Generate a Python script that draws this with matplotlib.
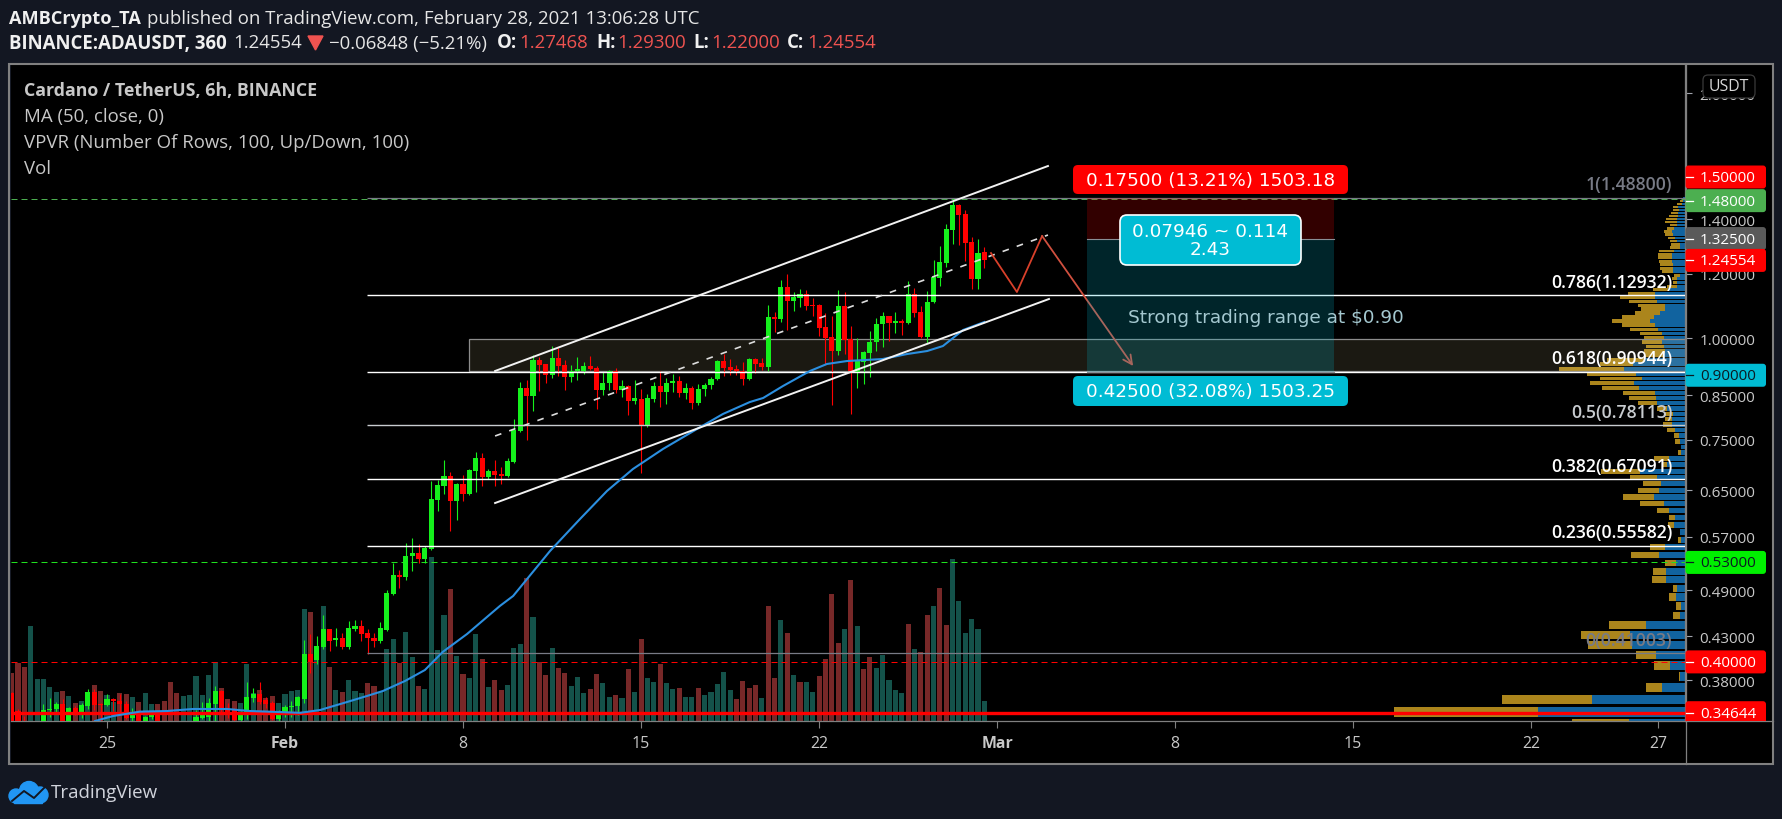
import matplotlib
matplotlib.use("Agg")
import matplotlib.pyplot as plt
from matplotlib.patches import FancyBboxPatch, Rectangle, Circle
from matplotlib.lines import Line2D
from matplotlib.ticker import NullLocator
from matplotlib.transforms import Bbox, IdentityTransform

# ---------------- data ----------------
# 6h candles, last one ends the series on Feb 28 12:00 (days counted from Jan 25)
last_day = 34.5
opens = [.366,.348,.338,.335,.332,.336,.349,.350,.355,.338,.351,.346,.353,.367,.355,.354,.360,.358,.355,.341,
 .344,.338,.342,.345,.337,.333,.332,.331,.333,.335,.341,.342,.355,.368,.350,.350,.339,.344,.361,.365,
 .359,.356,.340,.345,.352,.353,.360,.409,.402,.417,.439,.425,.428,.417,.4385,.4425,.434,.428,.424,.4375,
 .485,.5115,.5086,.539,.544,.535,.5505,.6324,.658,.6768,.6306,.6617,.6432,.6865,.7122,.675,.6865,.68,.677,.704,
 .7687,.868,.8487,.9397,.928,.9006,.945,.926,.8955,.910,.912,.9239,.9187,.8632,.880,.911,.8632,.873,.8368,.8415,
 .7818,.8415,.873,.8584,.8805,.8855,.8559,.8681,.832,.8656,.8755,.8905,.937,.92,.915,.912,.8905,.9423,.931,.9213,
 1.0612,1.0552,1.1552,1.1104,1.121,1.1326,1.097,1.0979,1.031,1.003,.9639,1.0947,.9972,.906,.9344,.9585,.9888,1.0404,1.0642,1.0433,
 1.0493,1.0433,1.1326,1.0763,1.0028,1.1072,1.185,1.2364,1.3573,1.4568,1.4202,1.3121,1.1817,1.27468]
highs = [.367,.350,.343,.336,.335,.355,.361,.3575,.360,.352,.353,.356,.370,.370,.356,.365,.361,.365,.358,.351,
 .345,.343,.348,.346,.337,.334,.333,.333,.335,.349,.357,.361,.374,.369,.356,.351,.348,.378,.371,.378,
 .362,.358,.349,.354,.358,.363,.425,.433,.430,.457,.439,.440,.434,.449,.450,.450,.4385,.4335,.448,.490,
 .529,.519,.56,.568,.558,.555,.667,.669,.708,.6845,.663,.6787,.69,.7243,.7218,.69,.708,.695,.712,.795,
 .883,.888,.953,.9477,.93,.9776,.9721,.9397,.9265,.9477,.9344,.9503,.9239,.9083,.9135,.9187,.888,.875,.888,.8656,
 .8535,.8829,.9109,.893,.9032,.898,.8805,.873,.878,.8805,.8955,.94,.9557,.9423,.9265,.9344,.945,.945,.945,1.0979,
 1.0763,1.1783,1.1984,1.139,1.1487,1.1455,1.1198,1.10,1.0733,1.0642,1.1455,1.139,1.0345,1.0,.9639,1.02,1.0582,1.0763,1.065,1.0763,
 1.0552,1.175,1.1519,1.0947,1.1423,1.2469,1.2973,1.3805,1.4858,1.46,1.4364,1.3307,1.3233,1.293]
lows = [.330,.330,.330,.328,.328,.330,.342,.346,.335,.335,.344,.341,.350,.349,.338,.353,.348,.344,.340,.335,
 .330,.337,.340,.330,.330,.328,.328,.328,.329,.330,.340,.337,.337,.347,.341,.336,.336,.340,.357,.355,
 .351,.339,.336,.342,.342,.344,.356,.3875,.398,.415,.4125,.418,.4145,.4145,.437,.424,.409,.417,.4215,.4365,
 .4835,.493,.504,.517,.529,.529,.549,.613,.643,.579,.5976,.6306,.642,.647,.658,.671,.658,.662,.675,.703,
 .766,.7494,.8134,.8608,.8805,.893,.898,.8632,.8829,.888,.9032,.9135,.8181,.8511,.8632,.8559,.8463,.8043,.8297,.6826,
 .7774,.8344,.8227,.8297,.8584,.8463,.8415,.8181,.8274,.8487,.8656,.888,.898,.9006,.9006,.8755,.889,.9059,.9135,.9109,
 1.017,1.0463,1.0229,1.0794,1.0917,1.0824,1.0642,1.0057,.9291,.8274,.953,.9557,.8066,.8681,.878,.8955,.9639,.9748,.9915,1.0142,
 1.0085,1.0404,1.0612,1.0,.9869,1.104,1.1585,1.2224,1.3046,1.3009,1.2433,1.1487,1.1487,1.22]
closes = [.336,.335,.335,.332,.334,.349,.350,.355,.338,.351,.346,.354,.367,.354,.354,.360,.358,.355,.341,.344,
 .337,.342,.344,.337,.333,.332,.331,.330,.332,.342,.344,.356,.368,.349,.345,.339,.344,.362,.365,.357,
 .355,.340,.345,.352,.353,.362,.409,.400,.418,.439,.424,.428,.417,.440,.4425,.433,.4275,.424,.440,.486,
 .5115,.509,.5397,.544,.535,.552,.6342,.6598,.6768,.6306,.6617,.6432,.6884,.7122,.6749,.6865,.679,.677,.706,.7708,
 .8681,.8487,.9397,.9265,.9006,.945,.9239,.8955,.9109,.916,.9239,.916,.8632,.8805,.9109,.8632,.873,.8368,.8439,.7818,
 .8439,.873,.8584,.8805,.8855,.8559,.8681,.832,.8656,.8755,.8905,.937,.9187,.9135,.9109,.8905,.9423,.9292,.9213,1.0612,
 1.0552,1.1552,1.1104,1.123,1.1326,1.0947,1.0947,1.0287,1.0,.9639,1.0947,.9943,.9109,.937,.9612,.9888,1.0404,1.0642,1.0433,1.0493,
 1.0433,1.1326,1.0733,1.0028,1.1072,1.1884,1.2399,1.3612,1.4568,1.4162,1.3083,1.1817,1.2718,1.24554]

volumes = [48,58,54,95,42,42,34,29,30,25,18,20,28,36,30,26,19,28,27,24,19,28,17,17,20,39,28,25,26,45,26,46,59,33,22,20,18,57,28,31,
 23,25,18,27,30,31,112,109,74,115,54,31,29,41,30,28,38,35,29,72,82,58,89,64,35,32,164,71,106,132,65,47,43,87,62,34,41,
 31,36,73,77,143,104,59,46,73,53,48,35,44,28,32,47,38,24,26,23,52,29,82,43,39,57,38,32,33,24,24,33,26,29,37,49,31,22,40,33,36,23,
 115,43,101,88,46,39,39,29,45,62,127,78,92,141,95,52,64,53,66,41,31,28,97,72,69,106,115,133,96,162,120,88,102,92,20]
volume_dirs = ("RRRGGGGGRGRGGRRGGRRGRGGRRRRGGGGGGRRRGGGRRRGGGGGRGGRGRGGGRRGGGRGGRGGGGRGRGGRGR"
               "RGGGRGRRGRRGGGRRGGRGRGRGGRGGRGGRGGGGGRRRRGRRGRGRGGRRRRGRGRRGGGGGRGRRGRRGGGGGGRRRGR")

ma_days = [-.47,.24,1.3,2.36,3.38,4.72,5.62,6.69,7.59,8.38,9.44,10.22,10.85,11.72,12.5,13.2,14.16,15.45,15.97,17.42,
 18.6,19.66,20.68,21.86,23.2,24.22,25.28,25.8,26.58,27.64,28.31,29.1,30.5,31.46,32.25,32.87,33.66,34.5]
ma_values = [.3384,.3432,.3475,.3481,.3501,.3501,.3481,.3472,.3463,.3491,.3571,.3632,.3684,.379,.3909,.4114,.4329,.4686,.482,.5474,
 .5993,.6487,.6903,.7305,.7731,.8066,.8344,.8439,.873,.9109,.9292,.937,.9423,.9557,.9639,.9776,1.0229,1.0463]

# volume profile rows: price, up volume, down volume
vp_prices = [.3354,.3475,.3596,.3717,.3838,.3959,.408,.4201,.4322,.4443,.4564,.4685,.4806,.4927,.5048,.5169,.529,.5411,.5532,.5653,
 .5774,.5895,.6016,.6137,.6258,.6379,.65,.6621,.6742,.6863,.6984,.7105,.7226,.7347,.7468,.7589,.771,.7831,.7952,.8073,
 .8194,.8315,.8436,.8557,.8678,.8799,.892,.9041,.9162,.9283,.9404,.9525,.9646,.9767,.9888,1.0009,1.013,1.0251,1.0372,1.0493,
 1.0614,1.0735,1.0856,1.0977,1.1098,1.1219,1.134,1.1461,1.1582,1.1703,1.1824,1.1945,1.2066,1.2187,1.2308,1.2429,1.255,1.2671,1.2792,1.2913,
 1.3034,1.3155,1.3276,1.3397,1.3518,1.3639,1.376,1.3881,1.4002,1.4123,1.4244,1.4365,1.4486,1.4607,1.4728,1.4849]
vp_up = [56,147,93,23,5,15,29,53,55,39,5,4,9,8,19,19,9,26,20,4,5,11,10,16,21,31,26,24,28,45,18,16,4,4,5,6,10,13,13,12,
 18,28,29,30,46,51,43,49,61,52,40,22,20,21,23,21,23,27,30,35,31,25,20,20,28,30,30,17,8,8,8,5,12,12,12,13,13,13,11,5,
 5,8,10,12,13,11,8,8,8,7,7,6,7,3,2,2]
vp_down = [57,144,90,16,1,16,20,44,49,37,7,5,7,4,14,13,11,28,15,3,0,6,6,12,24,31,21,18,27,39,5,15,3,0,5,5,8,9,7,8,
 10,19,27,32,37,44,42,49,65,33,38,19,21,18,20,20,22,28,33,38,32,25,24,27,28,35,27,15,10,4,5,6,11,13,13,13,14,14,15,10,
 9,7,7,8,8,7,7,12,11,9,7,6,5,5,3,0]

fib_levels = [1.488, 1.12932, .90944, .78113, .67091, .55582, .41003]
fib_labels = ["1(1.48800)", "0.786(1.12932)", "0.618(0.90944)", "0.5(0.78113)", "0.382(0.67091)", "0.236(0.55582)", "0(0.41003)"]
fib_colors = ["#787b86", "#ffffff", "#ffffff", "#c8ccd0", "#ffffff", "#ffffff", "#787b86"]

channel_days = [15.26, 37.0]
channel_top = [.9109, 1.6268]
channel_mid = [.7579, 1.3383]
channel_low = [.627, 1.1167]
channel_low_days = [15.26, 37.04]
zigzag_days = [34.76, 35.78, 36.77, 40.35]
zigzag_prices = [1.2718, 1.139, 1.3345, .9239]

axis_ticks = [2.0, 1.4, 1.2, 1.0, .85, .75, .65, .57, .49, .43, .38]
axis_tick_labels = ["2.00000","1.40000","1.20000","1.00000","0.85000","0.75000","0.65000","0.57000","0.49000","0.43000","0.38000"]
day_ticks = [0, 7, 14, 21, 28, 35, 42, 49, 56, 61]
day_labels = ["25", "Feb", "8", "15", "22", "Mar", "8", "15", "22", "27"]
tag_prices = [1.577, 1.475, 1.325, 1.24554, .90, .53, .40, .34644]
tag_labels = ["1.50000", "1.48000", "1.32500", "1.24554", "0.90000", "0.53000", "0.40000", "0.34644"]
tag_colors = ["#ff0000", "#4caf50", "#5a5a5a", "#ff0000", "#00bcd4", "#00f000", "#ff0000", "#ff0000"]
tag_text = ["#ffffff", "#ffffff", "#ffffff", "#ffffff", "#0b1a22", "#0b1a22", "#ffffff", "#ffffff"]
last_low = .34644

# ---------------- layout ----------------
W, H = 1783, 820
BG = "#131722"
SANS = "Open Sans"
plt.rcParams["font.family"] = [SANS, "DejaVu Sans"]
fig = plt.figure(figsize=(W/100, H/100), dpi=100, facecolor=BG)
L, R, T, B = 10.5, 1685.5, 66, 722
rect = [L/W, 1-B/H, (R-L)/W, (B-T)/H]
xlim = (-3.795, 62.07)
ylim = (.3384, 2.165)

ax_vol = fig.add_axes(rect, zorder=1, facecolor="black")
ax_vp = fig.add_axes(rect, zorder=2, facecolor="none")
ax = fig.add_axes(rect, zorder=3, facecolor="none")

n = len(closes)
days = [last_day - .25*(n-1-i) for i in range(n)]

# volume
vcol = ["#14524a" if c == "G" else "#772828" for c in volume_dirs]
ax_vol.bar(days[-len(volumes):], volumes, width=.2, color=vcol, linewidth=0)
ax_vol.set_xlim(*xlim); ax_vol.set_ylim(0, B-T)
ax_vol.set_xticks([]); ax_vol.set_yticks([])
for s in ax_vol.spines.values(): s.set_visible(False)

# volume profile
ax_vp.set_yscale("log")
hts = [.0121*.8]*len(vp_prices)
ax_vp.barh(vp_prices, vp_up, height=hts, color="#11639f", linewidth=0)
ax_vp.barh(vp_prices, vp_down, left=vp_up, height=hts, color="#ab851c", linewidth=0)
ax_vp.set_xlim(R-L, 0); ax_vp.set_ylim(*ylim); ax_vp.axis("off")

# price axes
ax.set_yscale("log")
ax.set_xlim(*xlim); ax.set_ylim(*ylim)
ax.yaxis.tick_right()
ax.set_yticks(axis_ticks, axis_tick_labels)
ax.yaxis.set_minor_locator(NullLocator())
ax.set_xticks(day_ticks, day_labels)
ax.tick_params(axis="y", length=5, width=.8, color="#a0a3ab", labelcolor="#c8c8c8", labelsize=11, pad=5)
ax.tick_params(axis="x", length=5, width=.8, color="#808080", labelcolor="#c8c8c8", labelsize=11.4, pad=5)
for t, lab in zip(ax.get_xticklabels(), day_labels):
    if lab in ("Feb", "Mar"):
        t.set_fontweight("bold")
for s in ("top", "left"):
    ax.spines[s].set_visible(False)
for s in ("right", "bottom"):
    ax.spines[s].set_color("#808080"); ax.spines[s].set_linewidth(.9)

# range box
ax.add_patch(Rectangle((14.23, .9109), xlim[1]-14.23, .9972-.9109, facecolor=(1, .92, .67, .11),
                       edgecolor="#8c8c8c", linewidth=.9, zorder=1))

# reference levels
ax.axhline(1.48, color="#4caf50", lw=.72, ls=(0, (6, 4)), zorder=2)
ax.axhline(.53, color="#1fe01f", lw=.72, ls=(0, (6, 4)), zorder=2)
ax.axhline(.40, color="#ff0000", lw=.72, ls=(0, (6, 4)), zorder=2)

# candles
for d, o, h, l, c in zip(days, opens, highs, lows, closes):
    col = "#15f01c" if c >= o else "#ff0000"
    ax.vlines(d, l, h, color=col, lw=.8, zorder=4)
    ax.bar(d, abs(c-o), bottom=min(o, c), width=.2, color=col, linewidth=0, zorder=4)

# last-low line
ax.axhline(last_low, color="#ff0000", lw=2.4, zorder=6)

# fibonacci
for lv, lb, col in zip(fib_levels, fib_labels, fib_colors):
    ax.plot([10.22, xlim[1]], [lv, lv], color=col, lw=1.0 if col != "#787b86" else .9, zorder=5, solid_capstyle="butt")
    ax.annotate(lb, xy=(61.55, lv), xytext=(0, 3), textcoords="offset points", ha="right", va="bottom",
                color=col, fontsize=12.7, fontweight=600, zorder=9)

# MA + channel + zigzag
ax.plot(ma_days, ma_values, color="#2b8fe0", lw=1.5, zorder=6)
ax.plot(channel_days, channel_top, color="#f2f2f2", lw=1.4, zorder=6)
ax.plot(channel_low_days, channel_low, color="#f2f2f2", lw=1.4, zorder=6)
ax.plot(channel_days, channel_mid, color="#dddddd", lw=1.2, ls=(0, (4, 5)), zorder=6)
ax.plot(zigzag_days[:3], zigzag_prices[:3], color="#d9402a", lw=1.3, zorder=7)
ax.annotate("", xy=(zigzag_days[3], zigzag_prices[3]), xytext=(zigzag_days[2], zigzag_prices[2]),
            arrowprops=dict(arrowstyle="->", color="#d0503f", lw=1.3, mutation_scale=16, shrinkA=0, shrinkB=0), zorder=7)

# position tool
pos_x0, pos_x1 = 38.54, 48.25
ax.add_patch(Rectangle((pos_x0, 1.325), pos_x1-pos_x0, 1.488-1.325, facecolor=(1, 0, 0, .2), linewidth=0, zorder=8))
ax.add_patch(Rectangle((pos_x0, .9094), pos_x1-pos_x0, 1.325-.9094, facecolor=(0, .737, .831, .2), linewidth=0, zorder=8))
ax.plot([pos_x0, pos_x1], [1.325, 1.325], color="#8a8f96", lw=.8, zorder=8)
ax.plot([pos_x0, pos_x1], [.9094, .9094], color="#8a8f96", lw=.8, zorder=8)

# ---------------- decorations in pixel space ----------------
ID = IdentityTransform()
def box(x0, y0, x1, y1, fc, ec="none", lw=0, r=4, z=20, clip=None):
    p = FancyBboxPatch((x0, H-y1), x1-x0, y1-y0, boxstyle=f"round,pad=0,rounding_size={r}",
                       facecolor=fc, edgecolor=ec, linewidth=lw, transform=ID, zorder=z)
    fig.add_artist(p)
    if clip is not None:
        p.set_clip_on(True); p.set_clip_box(clip)
    return p
def txt(x, y, s, color="#e6e6e6", size=13.4, weight="normal", ha="left", family=SANS, z=21):
    return fig.text(x/W, 1-y/H, s, color=color, fontsize=size, fontweight=weight, ha=ha, va="center", family=family, zorder=z)

# outer frame
fig.add_artist(Rectangle((9, H-765), 1773-9, 765-65, transform=ID, facecolor="none", edgecolor="#808080", linewidth=1.5, zorder=15))
fig.add_artist(Rectangle((R, H-765), 1773-R, 765-T, transform=ID, facecolor="black", edgecolor="none", zorder=.5))
fig.add_artist(Rectangle((L, H-765), R-L, 765-B, transform=ID, facecolor="black", edgecolor="none", zorder=.5))
fig.add_artist(Line2D([R, R], [H-765, H-T], transform=ID, color="#808080", lw=.9, zorder=15))
fig.add_artist(Line2D([R, 1773], [H-B, H-B], transform=ID, color="#808080", lw=.9, zorder=15))

# header
txt(9, 18.5, "AMBCrypto_TA", "#f0f0f0", size=13.1, weight="bold")
txt(147, 18.5, "published on TradingView.com, February 28, 2021 13:06:28 UTC", "#e6e6e6", size=13.46)
txt(9, 43.5, "BINANCE:ADAUSDT, 360", "#f0f0f0", weight="bold")
txt(233, 43.5, "1.24554", "#e6e6e6")
fig.add_artist(plt.Polygon([(308, H-37), (323, H-37), (315.5, H-51)], transform=ID, color="#ef5350", zorder=21))
txt(329, 43.5, "\u22120.06848 (\u22125.21%)", "#e6e6e6")
for x, s in [(497, "O:"), (596, "H:"), (693, "L:"), (787, "C:")]:
    txt(x, 43.5, s, "#f0f0f0", weight="bold")
for x, s in [(519, "1.27468"), (617, "1.29300"), (711, "1.22000"), (807, "1.24554")]:
    txt(x, 43.5, s, "#ef5350")

# legend
txt(24, 91, "Cardano / TetherUS, 6h, BINANCE", "#c8c8c8", size=12.8, weight="bold")
txt(24, 117, "MA (50, close, 0)", "#c8c8c8", size=13.4)
txt(24, 143, "VPVR (Number Of Rows, 100, Up/Down, 100)", "#c8c8c8", size=13.45)
txt(24, 168.5, "Vol", "#c8c8c8", size=13.4)

# position labels
DV = "DejaVu Sans"
box(1073, 166, 1348, 195, "#ff0000", r=5)
txt(1210.5, 180.5, "0.17500 (13.21%) 1503.18", "#ffffff", size=13.2, ha="center", family=DV)
box(1073, 377, 1348, 407, "#00bcd4", r=5)
txt(1210.5, 392, "0.42500 (32.08%) 1503.25", "#ffffff", size=13.2, ha="center", family=DV)
box(1120, 216, 1301, 266, "#00bcd4", ec="#ffffff", lw=1.2, r=7)
txt(1210.5, 232, "0.07946 ~ 0.114", "#ffffff", size=13.2, ha="center", family=DV)
txt(1210.5, 250, "2.43", "#ffffff", size=13.2, ha="center", family=DV)
txt(1128, 318, "Strong trading range at $0.90", "#a4c8d0", size=13.3, family=DV)

# axis tags
clipb = Bbox([[0, H-B], [W, H]])
fig.canvas.draw()
for price, lab, fc, tc in zip(tag_prices, tag_labels, tag_colors, tag_text):
    yd = ax.transData.transform((0, price))[1]
    ypx = H - yd
    box(R, ypx-11.5, 1766, ypx+11.5, fc, r=3, clip=clipb)
    txt(1700, ypx+.5, lab, tc, size=11, z=21)
    fig.add_artist(Line2D([R, R+7], [yd, yd], transform=ID, color="#ffffff" if tc == "#ffffff" else "#0b1a22", lw=.9, zorder=21))

# currency button
box(1703, 76, 1755, 99, "black", ec="#3a3a3a", lw=.9, r=5)
txt(1729, 87, "USDT", "#d8d8d8", size=11.4, ha="center")

# TradingView logo
LOGO = "#2196f3"
for cx, cy, r in [(29, 792, 9.5), (16, 797, 7), (40, 796, 8)]:
    fig.add_artist(Circle((cx, H-cy), r, transform=ID, color=LOGO, zorder=21))
fig.add_artist(Rectangle((14, H-804), 28, 10, transform=ID, color=LOGO, zorder=21))
fig.add_artist(Line2D([12, 24, 34, 45], [H-802, H-792, H-799, H-788], transform=ID, color=BG, lw=1.4, zorder=22))
txt(51, 793, "TradingView", "#d1d4dc", size=13.5)

fig.savefig("out.png", dpi=100, facecolor=BG)
